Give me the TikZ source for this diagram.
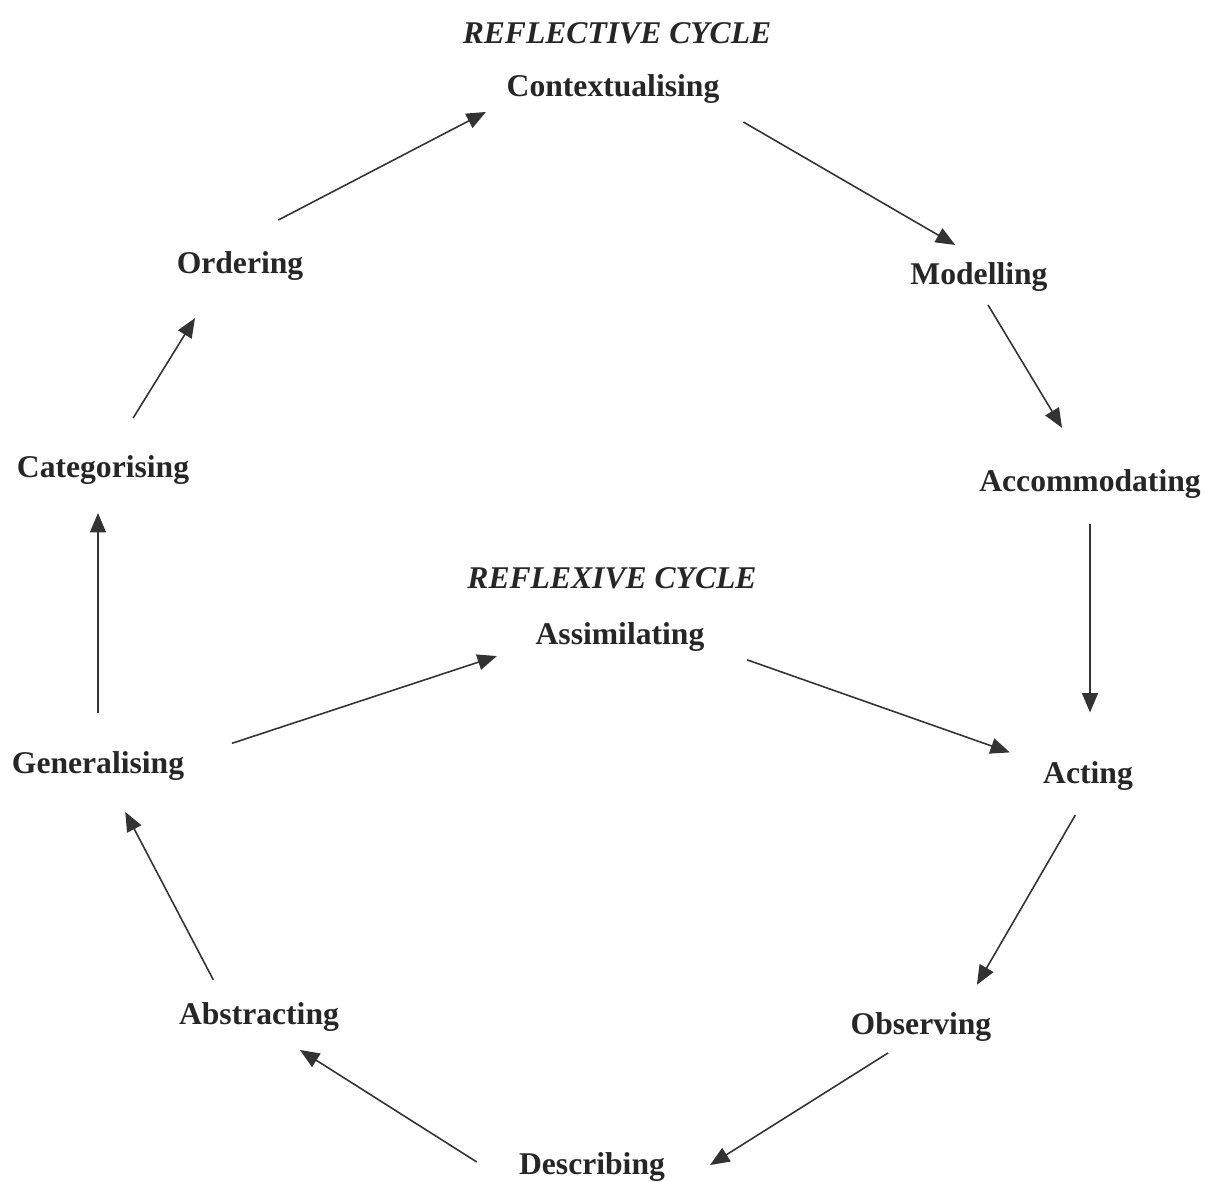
\documentclass[tikz,border=0pt]{standalone}
\usepackage{fontspec}
\setmainfont{Liberation Serif}
\usepackage{xcolor}
\usepackage{tikz}
\usetikzlibrary{arrows.meta, positioning, calc}

\begin{document}
\begin{tikzpicture}[
  x=0.02cm, y=-0.02cm,
  stage/.style={inner sep=0pt, text height=14.5pt, text depth=1.6pt,
                font=\fontsize{18}{22}\selectfont\bfseries, text=black!85},
  cycletitle/.style={inner sep=0pt, font=\fontsize{18}{22}\selectfont\bfseries\itshape, text=black!85},
  flow/.style={-{Triangle[length=11pt,width=9pt]}, draw=black!80, line width=0.9pt},
  every node/.style={anchor=center}
]
  \useasboundingbox (0,0) rectangle (1206,1182);
  % outer cycle
  \node[cycletitle] (refl) at (617,33)  {REFLECTIVE CYCLE};
  \node[stage] (ctx) at (613,85)    {Contextualising};
  \node[stage] (mod) at (979,273)   {Modelling};
  \node[stage] (acc) at (1090,480)  {Accommodating};
  \node[stage] (act) at (1088,772)  {Acting};
  \node[stage] (obs) at (921,1023)  {Observing};
  \node[stage] (des) at (592,1163)  {Describing};
  \node[stage] (abs) at (259,1013)  {Abstracting};
  \node[stage] (gen) at (98,762)    {Generalising};
  \node[stage] (cat) at (103,466)   {Categorising};
  \node[stage] (ord) at (240,262)   {Ordering};
  % inner cycle
  \node[cycletitle] (refx) at (612,578) {REFLEXIVE CYCLE};
  \node[stage] (asm) at (620,633)   {Assimilating};

  \draw[flow, shorten <=1.19cm, shorten >=0.54cm] (ord.135.4) -- (ctx.-172.1);
  \draw[flow, shorten <=0.9cm,  shorten >=0.54cm] (ctx.-9.15) -- (mod.92.4);
  \draw[flow, shorten <=0.41cm, shorten >=0.88cm] (mod.-96) -- (acc.110.4);
  \draw[flow, shorten <=0.6cm,  shorten >=0.9cm]  (acc.south) -- (acc.south |- act.north);
  \draw[flow, shorten <=0.66cm, shorten >=0.55cm] (act.-75.7) -- (obs.19.8);
  \draw[flow, shorten <=0.58cm, shorten >=0.47cm] (obs.-120) -- ([xshift=0.5cm]des.south east);
  \draw[flow, shorten <=0.58cm, shorten >=0.84cm] ([xshift=-0.35cm]des.south west) -- (abs.-69.6);
  \draw[flow, shorten <=0.42cm, shorten >=0.8cm]  (abs.158.2) -- (gen.-59.9);
  \draw[flow, shorten <=0.69cm, shorten >=0.65cm] (gen.north) -- (gen.north |- cat.south);
  \draw[flow, shorten <=0.79cm, shorten >=0.98cm] (cat.57.6) -- (ord.-143.1);
  \draw[flow, shorten <=1cm,    shorten >=0.81cm] (gen.2.1) -- (asm.-173.8);
  \draw[flow, shorten <=0.9cm,  shorten >=0.7cm]  (asm.-8.1) -- (act.170.8);
\end{tikzpicture}
\end{document}
